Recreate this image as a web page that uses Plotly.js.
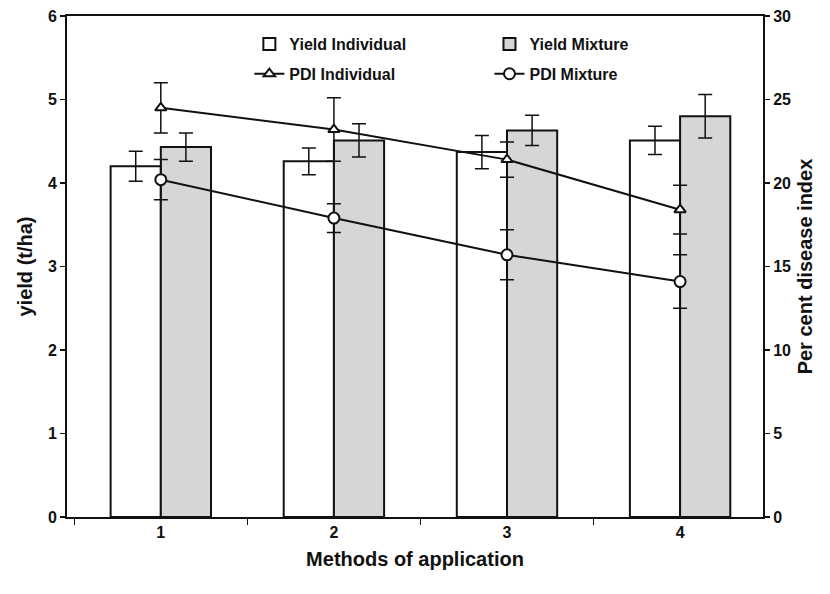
<!DOCTYPE html>
<html>
<head>
<meta charset="utf-8">
<script src="https://cdn.plot.ly/plotly-3.0.1.min.js"></script>
<style>html,body{margin:0;padding:0;background:#fff;}#chart{width:830px;height:594px;}</style>
</head>
<body>
<div id="chart"></div>
<script>
// Data
const methods = ['1', '2', '3', '4'];
const yieldIndividual = [4.20, 4.26, 4.37, 4.51];
const yieldIndividualErr = [0.18, 0.16, 0.20, 0.17];
const yieldMixture = [4.43, 4.51, 4.63, 4.80];
const yieldMixtureErr = [0.17, 0.20, 0.18, 0.26];
const pdiIndividual = [24.5, 23.2, 21.4, 18.4];
const pdiIndividualErr = [1.5, 1.9, 1.05, 1.46];
const pdiMixture = [20.2, 17.9, 15.7, 14.1];
const pdiMixtureErr = [1.2, 0.86, 1.5, 1.6];

const narrow = '"Liberation Sans Narrow", "Arial Narrow", "Liberation Sans", Arial, sans-serif';
const sans = '"Liberation Sans", Arial, sans-serif';

const traces = [
  {
    type: 'bar', name: 'Yield Individual', x: methods, y: yieldIndividual,
    legend: 'legend', legendgroup: 'a', legendrank: 1,
    marker: {color: '#ffffff', line: {color: '#111111', width: 2}},
    error_y: {type: 'data', array: yieldIndividualErr, visible: true, color: '#111111', thickness: 1.5, width: 7}
  },
  {
    type: 'bar', name: 'Yield Mixture', x: methods, y: yieldMixture,
    legend: 'legend2', legendgroup: 'b', legendrank: 1,
    marker: {color: '#d6d6d6', line: {color: '#111111', width: 2}},
    error_y: {type: 'data', array: yieldMixtureErr, visible: true, color: '#111111', thickness: 1.5, width: 7}
  },
  {
    type: 'scatter', mode: 'lines+markers', name: 'PDI Individual', x: methods, y: pdiIndividual, yaxis: 'y2',
    legend: 'legend', legendgroup: 'c', legendrank: 2,
    line: {color: '#111111', width: 2},
    marker: {symbol: 'triangle-up', size: 10, color: '#ffffff', line: {color: '#111111', width: 2}},
    error_y: {type: 'data', array: pdiIndividualErr, visible: true, color: '#111111', thickness: 1.5, width: 7}
  },
  {
    type: 'scatter', mode: 'lines+markers', name: 'PDI Mixture', x: methods, y: pdiMixture, yaxis: 'y2',
    legend: 'legend2', legendgroup: 'd', legendrank: 2,
    line: {color: '#111111', width: 2},
    marker: {symbol: 'circle', size: 11, color: '#ffffff', line: {color: '#111111', width: 2}},
    error_y: {type: 'data', array: pdiMixtureErr, visible: true, color: '#111111', thickness: 1.5, width: 7}
  }
];

const legendFont = {family: narrow, size: 16, color: '#111111', weight: 'bold'};

const layout = {
  width: 830, height: 594,
  margin: {l: 67, r: 67, t: 16, b: 77},
  paper_bgcolor: '#ffffff', plot_bgcolor: '#ffffff',
  barmode: 'group', bargap: 0.42, bargroupgap: 0,
  showlegend: true,
  legend: {
    orientation: 'v', x: 0.262, y: 0.978, xanchor: 'left', yanchor: 'top',
    traceorder: 'grouped', tracegroupgap: 6, font: legendFont, bgcolor: 'rgba(0,0,0,0)'
  },
  legend2: {
    orientation: 'v', x: 0.607, y: 0.978, xanchor: 'left', yanchor: 'top',
    traceorder: 'grouped', tracegroupgap: 6, font: legendFont, bgcolor: 'rgba(0,0,0,0)'
  },
  xaxis: {
    type: 'category', range: [-0.542, 3.479],
    showline: true, linecolor: '#111111', linewidth: 2, mirror: true,
    ticks: 'outside', tickson: 'boundaries', ticklen: 6, tickwidth: 1.5, tickcolor: '#111111',
    showgrid: false, zeroline: false,
    tickfont: {family: sans, size: 16, color: '#111111', weight: 'bold'},
    title: {text: 'Methods of application', standoff: 12, font: {family: narrow, size: 20, color: '#111111', weight: 'bold'}}
  },
  yaxis: {
    range: [0, 6], dtick: 1, showline: true, linecolor: '#111111', linewidth: 2,
    ticks: 'outside', ticklen: 5, tickwidth: 1.5, tickcolor: '#111111',
    showgrid: false, zeroline: false,
    tickfont: {family: sans, size: 16, color: '#111111', weight: 'bold'},
    title: {text: 'yield (t/ha)', standoff: 10, font: {family: sans, size: 20, color: '#111111', weight: 'bold'}}
  },
  yaxis2: {
    overlaying: 'y', side: 'right', range: [0, 30], dtick: 5,
    showline: true, linecolor: '#111111', linewidth: 2,
    ticks: 'outside', ticklen: 5, tickwidth: 1.5, tickcolor: '#111111',
    showgrid: false, zeroline: false,
    tickfont: {family: sans, size: 16, color: '#111111', weight: 'bold'},
    title: {text: 'Per cent disease index', standoff: 8, font: {family: sans, size: 20, color: '#111111', weight: 'bold'}}
  }
};

Plotly.newPlot('chart', traces, layout, {displayModeBar: false, staticPlot: true});
</script>
</body>
</html>
